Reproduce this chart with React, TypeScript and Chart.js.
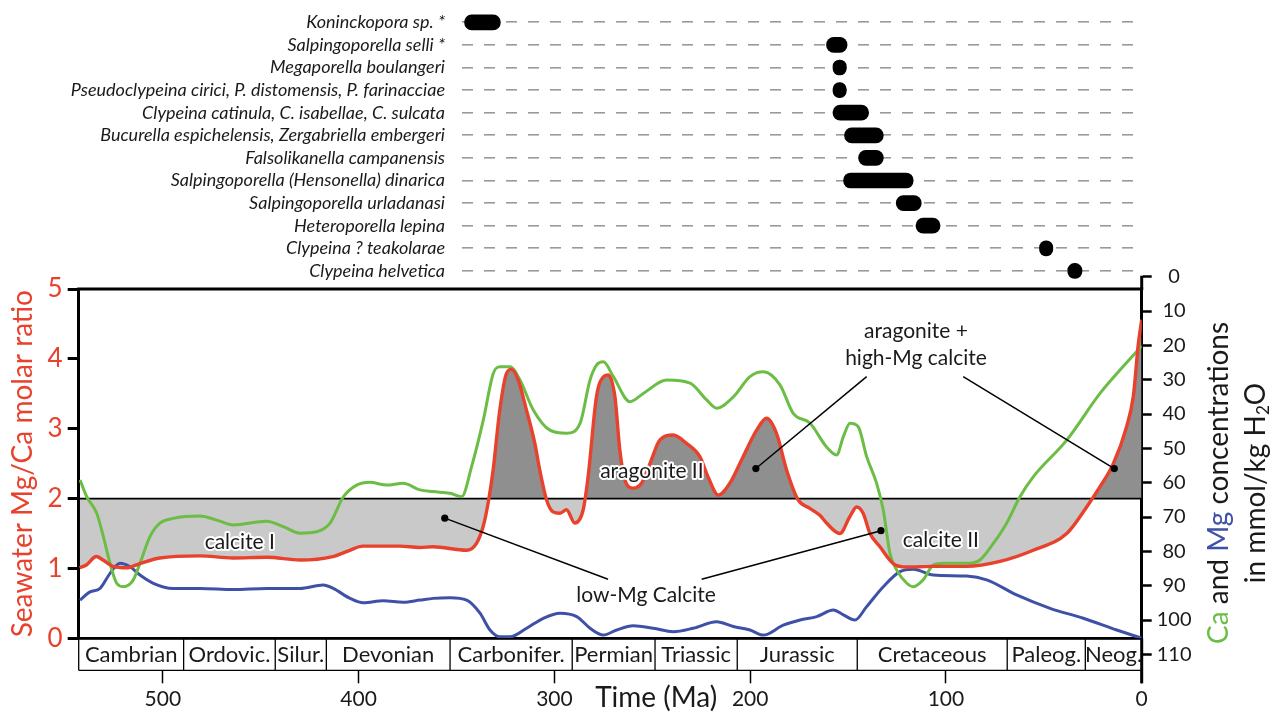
import React, { useEffect, useRef } from 'react';
import { Chart, registerables } from 'chart.js';

Chart.register(...registerables);

// ---------------- data ----------------
const SPECIES = [
  'Koninckopora sp. *',
  'Salpingoporella selli *',
  'Megaporella boulangeri',
  'Pseudoclypeina cirici, P. distomensis, P. farinacciae',
  'Clypeina catinula, C. isabellae, C. sulcata',
  'Bucurella espichelensis, Zergabriella embergeri',
  'Falsolikanella campanensis',
  'Salpingoporella (Hensonella) dinarica',
  'Salpingoporella urladanasi',
  'Heteroporella lepina',
  'Clypeina ? teakolarae',
  'Clypeina helvetica',
];
// stratigraphic range of each species, [older, younger] in Ma
const SPECIES_RANGES: [number, number][] = [
  [345.9, 327.6], [161.0, 150.5], [157.7, 150.9], [157.7, 150.9],
  [157.7, 139.5], [151.8, 132.0], [144.6, 132.0], [152.3, 116.7],
  [125.4, 112.6], [115.3, 103.0], [52.2, 45.4], [37.8, 30.5],
];

// [age Ma, Mg/Ca molar ratio]
const MG_CA_RATIO: [number, number][] = [
  [542.5, 1.01], [539.1, 1.05], [534.0, 1.17], [530.6, 1.12], [525.5, 1.03], [518.6, 1.01],
  [511.8, 1.07], [501.6, 1.15], [481.2, 1.18], [464.3, 1.15], [446.9, 1.16], [430.0, 1.12],
  [413.2, 1.17], [404.5, 1.26], [397.9, 1.32], [379.0, 1.32], [368.8, 1.30], [362.1, 1.31],
  [344.9, 1.26], [339.8, 1.36], [336.4, 1.60], [333.9, 1.93], [331.3, 2.41], [327.9, 3.27],
  [324.5, 3.79], [321.9, 3.85], [318.5, 3.70], [314.3, 3.27], [310.0, 2.79], [307.5, 2.41],
  [304.0, 1.98], [300.7, 1.81], [297.2, 1.79], [293.8, 1.84], [289.6, 1.65], [285.3, 1.84],
  [282.8, 2.31], [278.5, 3.46], [275.1, 3.74], [272.6, 3.77], [269.1, 3.46], [266.6, 2.70],
  [264.0, 2.27], [259.8, 2.15], [255.5, 2.22], [251.2, 2.50], [246.1, 2.84], [239.3, 2.91],
  [232.5, 2.79], [225.7, 2.60], [221.5, 2.31], [216.3, 2.05], [210.4, 2.22], [203.6, 2.60],
  [196.7, 2.98], [191.6, 3.15], [186.5, 2.93], [181.4, 2.41], [175.5, 1.98], [169.5, 1.86],
  [164.4, 1.76], [161.0, 1.65], [154.2, 1.50], [149.1, 1.74], [145.6, 1.88], [142.3, 1.79],
  [138.8, 1.50], [133.7, 1.31], [126.9, 1.07], [120.1, 1.02], [106.5, 1.03], [89.4, 1.03],
  [72.4, 1.10], [55.4, 1.26], [38.3, 1.50], [28.1, 1.88], [21.3, 2.17], [14.5, 2.50],
  [7.7, 3.03], [4.3, 3.46], [1.7, 4.22], [0, 4.56],
];

// [age Ma, Ca mmol/kg H2O]
const CA_CONC: [number, number][] = [
  [542.3, 59.2], [538.9, 64.1], [533.8, 68.9], [530.4, 75.7], [527.0, 83.5], [523.6, 89.3],
  [520.2, 90.3], [515.1, 88.3], [511.7, 83.5], [506.6, 75.7], [501.5, 71.8], [494.7, 70.4],
  [481.0, 69.7], [472.5, 70.9], [464.0, 72.3], [447.0, 71.2], [438.5, 72.8], [430.0, 74.7],
  [421.4, 74.3], [414.6, 71.8], [407.8, 64.1], [401.0, 60.7], [394.2, 59.9], [385.7, 60.7],
  [377.2, 60.2], [368.7, 62.1], [361.9, 62.6], [353.3, 63.1], [347.4, 64.1], [342.3, 55.3],
  [336.3, 41.7], [331.2, 28.1], [327.8, 26.2], [322.7, 26.2], [317.6, 30.1], [310.8, 38.8],
  [302.3, 44.7], [293.7, 45.6], [286.9, 42.7], [281.8, 30.1], [278.4, 25.7], [275.0, 24.8],
  [269.9, 29.1], [261.4, 36.4], [254.6, 34.0], [242.6, 30.1], [230.7, 31.0], [222.2, 35.9],
  [217.1, 38.3], [208.6, 35.0], [200.1, 29.1], [193.3, 27.7], [184.8, 31.5], [178.0, 39.8],
  [169.4, 42.7], [161.1, 49.5], [155.8, 51.9], [152.4, 46.6], [149.0, 42.7], [144.8, 43.7],
  [140.5, 52.4], [135.4, 60.2], [132.0, 68.0], [128.6, 80.6], [125.2, 85.4], [120.0, 89.3],
  [116.7, 90.3], [111.6, 88.3], [106.5, 84.0], [101.3, 83.5], [89.4, 83.5], [82.6, 82.5],
  [75.8, 77.7], [69.0, 71.8], [62.2, 64.1], [55.4, 58.3], [38.3, 47.6], [21.3, 34.0],
  [11.1, 27.2], [0, 20.2],
];

// [age Ma, Mg mmol/kg H2O]
const MG_CONC: [number, number][] = [
  [542.3, 94.2], [537.2, 91.8], [532.1, 90.8], [527.0, 86.4], [521.9, 83.5], [516.8, 84.5],
  [511.7, 86.9], [504.9, 89.3], [494.7, 90.8], [481.0, 90.8], [464.0, 91.1], [447.0, 90.8],
  [430.0, 90.8], [418.1, 89.8], [413.0, 90.8], [404.4, 93.7], [397.6, 95.0], [387.4, 94.4],
  [377.2, 94.8], [368.7, 94.2], [361.9, 93.7], [353.3, 93.5], [344.8, 94.2], [338.0, 98.0],
  [332.9, 102.9], [327.8, 104.9], [322.7, 104.9], [314.2, 102.4], [305.7, 99.5], [297.1, 98.0],
  [288.6, 99.0], [281.8, 102.4], [275.0, 104.4], [268.2, 102.9], [259.7, 101.7], [249.5, 102.4],
  [239.3, 103.4], [229.1, 102.4], [217.1, 100.5], [208.6, 101.9], [200.1, 102.9], [193.3, 104.4],
  [183.1, 101.5], [174.5, 100.0], [166.0, 99.0], [157.5, 97.1], [152.4, 98.5], [146.5, 100.0],
  [140.5, 96.1], [132.0, 90.3], [123.5, 85.9], [116.7, 85.2], [106.5, 86.9], [89.4, 87.2],
  [79.2, 88.3], [63.9, 92.7], [46.8, 96.6], [29.8, 99.5], [12.8, 102.9], [0, 105.3],
];

const THRESHOLD = 2; // aragonite / calcite boundary Mg/Ca
const X_TICKS_STEP = 100;
const LEFT_TICKS = [0, 1, 2, 3, 4, 5];
const RIGHT_TICKS = [0, 10, 20, 30, 40, 50, 60, 70, 80, 90, 100, 110];

const PERIODS = ['Cambrian', 'Ordovic.', 'Silur.', 'Devonian', 'Carbonifer.', 'Permian',
  'Triassic', 'Jurassic', 'Cretaceous', 'Paleog.', 'Neog.'];
const PERIOD_BOUNDS = [543, 489.4, 442.6, 416.5, 353.3, 290.9, 248.6, 206.6, 145.3, 68.7, 28.8, 0];

// [text, age, Mg/Ca]
const FIELD_LABELS: [string, number, number][] = [
  ['calcite I', 460.7, 1.38],
  ['aragonite II', 250.2, 2.385],
  ['calcite II', 102.6, 1.40],
];
const NOTE_LABELS: [string, number, number][] = [
  ['low-Mg Calcite', 253.2, 0.62],
  ['aragonite +', 115.3, 4.39],
  ['high-Mg calcite', 115.3, 4.01],
];
// leader lines: [fromAge, fromVal, dotAge, dotVal]
const LEADERS: [number, number, number, number][] = [
  [272.6, 0.845, 356.0, 1.72],
  [224.8, 0.845, 133.2, 1.54],
  [140.5, 3.745, 197.1, 2.43],
  [91.2, 3.745, 14.0, 2.43],
];

// ---------------- styling / layout ----------------
const RED = '#e8412c';
const GREEN = '#6cbd45';
const BLUE = '#3f51a6';
const DARK_FILL = '#8f8f8f';
const LIGHT_FILL = '#c9c9c9';
const TEXT = '#1a1a1a';
const FONT = 'Lato, "Open Sans", sans-serif';

const W = 1280;
const H = 713;
const X_MAX = 543;
const PLOT_LEFT = 78.7;
const PLOT_RIGHT = 1141.7;
const PLOT_TOP = 289;
const PLOT_BOTTOM = 638.3;
const Y2_MIN = 3.58;
const Y2_MAX = 105.33;
const PX_PER_MA = (PLOT_RIGHT - PLOT_LEFT) / X_MAX;
const TOP_H = 290;
const TOP_LEFT = 462;
const TOP_AREA_TOP = 11;
const TOP_AREA_H = 271.2;
const TOP_MAX = (PLOT_RIGHT - TOP_LEFT) / PX_PER_MA;

const toXY = (arr: [number, number][]) => arr.map(([x, y]) => ({ x, y }));

const decorPlugin = {
  id: 'decor',
  afterDraw(chart: any) {
    const { ctx, chartArea: ca, scales } = chart;
    const xs = scales.x, ys = scales.y, y2 = scales.y2;
    const px = (a: number) => xs.getPixelForValue(a);
    const py = (v: number) => ys.getPixelForValue(v);
    const seg = (x1: number, y1: number, x2: number, yb: number, w: number) => {
      ctx.lineWidth = w;
      ctx.beginPath();
      ctx.moveTo(x1, y1);
      ctx.lineTo(x2, yb);
      ctx.stroke();
    };
    ctx.save();
    ctx.strokeStyle = '#000';
    ctx.lineCap = 'butt';

    // top border of the plot box
    seg(ca.left - 1.5, ca.top, ca.right + 1.5, ca.top, 3);

    // geologic period band
    const bandTop = ca.bottom + 1.5;
    const bandBottom = ca.bottom + 32;
    ctx.fillStyle = '#fff';
    ctx.fillRect(ca.left - 1, bandTop, ca.right - ca.left + 2, bandBottom - bandTop);
    ctx.font = `22px ${FONT}`;
    ctx.textAlign = 'center';
    ctx.textBaseline = 'middle';
    PERIODS.forEach((name, i) => {
      const x1 = px(PERIOD_BOUNDS[i]);
      const x2 = px(PERIOD_BOUNDS[i + 1]);
      ctx.fillStyle = TEXT;
      ctx.fillText(name, (x1 + x2) / 2, (ca.bottom + bandBottom) / 2 + 1);
      ctx.strokeStyle = '#000';
      seg(x1, ca.bottom, x1, bandBottom, 1.3);
    });
    seg(ca.left, bandBottom, ca.right, bandBottom, 1.3);

    // right axis extends beyond the plot box
    seg(ca.right, y2.getPixelForValue(0) - 1, ca.right, ca.top, 3);
    seg(ca.right, ca.bottom, ca.right, ca.bottom + 45, 3);

    // leader lines with dots
    ctx.strokeStyle = '#000';
    ctx.fillStyle = '#000';
    LEADERS.forEach(([a1, v1, a2, v2]) => {
      seg(px(a1), py(v1), px(a2), py(v2), 1.5);
      ctx.beginPath();
      ctx.arc(px(a2), py(v2), 3.6, 0, Math.PI * 2);
      ctx.fill();
    });

    // field labels with white halo
    ctx.font = `21px ${FONT}`;
    ctx.textAlign = 'center';
    ctx.textBaseline = 'middle';
    ctx.lineJoin = 'round';
    FIELD_LABELS.forEach(([t, a, v]) => {
      ctx.lineWidth = 4;
      ctx.strokeStyle = '#fff';
      ctx.strokeText(t, px(a), py(v));
      ctx.fillStyle = TEXT;
      ctx.fillText(t, px(a), py(v));
    });
    NOTE_LABELS.forEach(([t, a, v]) => {
      ctx.fillStyle = TEXT;
      ctx.fillText(t, px(a), py(v));
    });

    // x-axis title
    ctx.font = `28px ${FONT}`;
    ctx.textBaseline = 'alphabetic';
    ctx.fillStyle = TEXT;
    ctx.fillText('Time (Ma)', (ca.left + ca.right) / 2 + 46, H - 6);

    // right axis title (rotated, multicolour)
    const drawRot = (cx: number, cy: number, parts: { t: string; c: string; s: number; dy?: number }[]) => {
      ctx.save();
      ctx.translate(cx, cy);
      ctx.rotate(-Math.PI / 2);
      ctx.textAlign = 'left';
      ctx.textBaseline = 'alphabetic';
      let total = 0;
      parts.forEach((p) => {
        ctx.font = `${p.s}px ${FONT}`;
        total += ctx.measureText(p.t).width;
      });
      let pos = -total / 2;
      parts.forEach((p) => {
        ctx.font = `${p.s}px ${FONT}`;
        ctx.fillStyle = p.c;
        ctx.fillText(p.t, pos, p.dy || 0);
        pos += ctx.measureText(p.t).width;
      });
      ctx.restore();
    };
    const cy = ca.top + 194;
    drawRot(1228, cy, [
      { t: 'Ca', c: GREEN, s: 28 },
      { t: ' and ', c: TEXT, s: 28 },
      { t: 'Mg', c: BLUE, s: 28 },
      { t: ' concentrations', c: TEXT, s: 28 },
    ]);
    drawRot(1265, cy, [
      { t: 'in mmol/kg H', c: TEXT, s: 28 },
      { t: '2', c: TEXT, s: 17, dy: 4 },
      { t: 'O', c: TEXT, s: 28 },
    ]);
    ctx.restore();
  },
};

export default function App() {
  const mainRef = useRef<HTMLCanvasElement>(null);
  const topRef = useRef<HTMLCanvasElement>(null);

  useEffect(() => {
    Chart.defaults.font.family = FONT;
    const main = new Chart(mainRef.current as HTMLCanvasElement, {
      type: 'line',
      data: {
        datasets: [
          {
            label: 'Mg/Ca',
            data: toXY(MG_CA_RATIO),
            yAxisID: 'y',
            borderColor: RED,
            borderWidth: 3.4,
            pointRadius: 0,
            cubicInterpolationMode: 'monotone',
            fill: { target: { value: THRESHOLD }, above: DARK_FILL, below: LIGHT_FILL },
          } as any,
          {
            label: 'Ca',
            data: toXY(CA_CONC),
            yAxisID: 'y2',
            borderColor: GREEN,
            borderWidth: 3,
            pointRadius: 0,
            cubicInterpolationMode: 'monotone',
            fill: false,
          },
          {
            label: 'Mg',
            data: toXY(MG_CONC),
            yAxisID: 'y2',
            borderColor: BLUE,
            borderWidth: 3,
            pointRadius: 0,
            cubicInterpolationMode: 'monotone',
            fill: false,
          },
          {
            label: 'threshold',
            data: [{ x: X_MAX, y: THRESHOLD }, { x: 0, y: THRESHOLD }],
            yAxisID: 'y',
            borderColor: '#000',
            borderWidth: 1.6,
            pointRadius: 0,
            fill: false,
          },
        ],
      },
      options: {
        responsive: false,
        animation: false,
        events: [],
        layout: { padding: { top: PLOT_TOP, left: 0, right: 0, bottom: 0 } },
        plugins: {
          legend: { display: false },
          tooltip: { enabled: false },
          filler: { drawTime: 'beforeDatasetsDraw' },
        } as any,
        scales: {
          x: {
            type: 'linear',
            min: 0,
            max: X_MAX,
            reverse: true,
            ticks: {
              stepSize: X_TICKS_STEP,
              includeBounds: false,
              autoSkip: false,
              maxRotation: 0,
              font: { size: 21 },
              color: TEXT,
              padding: 3,
            },
            grid: { drawOnChartArea: false, tickLength: 45, tickWidth: 1.5, color: '#000' },
            border: { width: 3, color: '#000' },
            afterFit: (s: any) => { s.height = H - PLOT_BOTTOM; },
          } as any,
          y: {
            position: 'left',
            min: 0,
            max: 5,
            afterBuildTicks: (s: any) => { s.ticks = LEFT_TICKS.map((v) => ({ value: v })); },
            ticks: { font: { size: 26 }, color: RED, padding: 5, autoSkip: false },
            grid: { drawOnChartArea: false, tickLength: 11, tickWidth: 3, color: '#000' },
            border: { width: 3, color: '#000' },
            title: {
              display: true,
              text: 'Seawater Mg/Ca molar ratio',
              color: RED,
              font: { size: 28 },
              padding: { top: 6.5, bottom: 0 },
            },
            afterFit: (s: any) => { s.width = PLOT_LEFT; },
          } as any,
          y2: {
            position: 'right',
            reverse: true,
            min: Y2_MIN,
            max: Y2_MAX,
            afterBuildTicks: (s: any) => { s.ticks = RIGHT_TICKS.map((v) => ({ value: v })); },
            ticks: { font: { size: 20 }, color: TEXT, padding: 5, autoSkip: false, crossAlign: 'center' },
            grid: { drawOnChartArea: false, tickLength: 10, tickWidth: 2.5, color: '#000' },
            border: { width: 3, color: '#000' },
            afterFit: (s: any) => { s.width = W - PLOT_RIGHT; },
          } as any,
        },
      },
      plugins: [decorPlugin],
    });

    const top = new Chart(topRef.current as HTMLCanvasElement, {
      type: 'bar',
      data: {
        labels: SPECIES,
        datasets: [
          {
            data: SPECIES_RANGES as any,
            backgroundColor: '#000',
            borderRadius: 8,
            borderSkipped: false,
            barThickness: 15,
          },
        ],
      },
      options: {
        indexAxis: 'y',
        responsive: false,
        animation: false,
        events: [],
        layout: {
          padding: { top: TOP_AREA_TOP, bottom: TOP_H - TOP_AREA_TOP - TOP_AREA_H, left: 0, right: W - PLOT_RIGHT },
        },
        plugins: { legend: { display: false }, tooltip: { enabled: false } },
        scales: {
          x: { type: 'linear', min: 0, max: TOP_MAX, reverse: true, display: false },
          y: {
            grid: { offset: false, drawTicks: false, color: '#9a9a9a', lineWidth: 1.6 },
            border: { display: false, dash: [11, 11] },
            ticks: { font: { style: 'italic', size: 18 }, color: TEXT, padding: 17, autoSkip: false },
            afterFit: (s: any) => {
              s.width = TOP_LEFT;
              s.paddingTop = 0;
              s.paddingBottom = 0;
            },
          } as any,
        },
      },
    });

    return () => {
      main.destroy();
      top.destroy();
    };
  }, []);

  return (
    <div style={{ position: 'absolute', left: 0, top: 0, width: W, height: H, background: '#fff' }}>
      <canvas ref={mainRef} width={W} height={H} style={{ position: 'absolute', left: 0, top: 0, width: W, height: H }} />
      <canvas ref={topRef} width={W} height={TOP_H} style={{ position: 'absolute', left: 0, top: 0, width: W, height: TOP_H }} />
    </div>
  );
}
